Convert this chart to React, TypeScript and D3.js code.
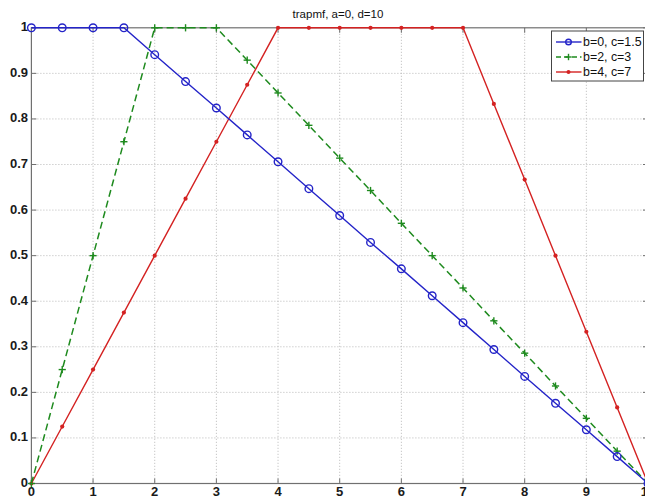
import React from "react";
import * as d3 from "d3";

// Sample points shared by all three membership curves
const xs = [0, 0.5, 1, 1.5, 2, 2.5, 3, 3.5, 4, 4.5, 5, 5.5, 6, 6.5, 7, 7.5, 8, 8.5, 9, 9.5, 10];

// trapmf values read at each sample, a=0, d=10
const seriesB0C15 = [1, 1, 1, 1, 0.941, 0.882, 0.824, 0.765, 0.706, 0.647, 0.588, 0.529, 0.471, 0.412, 0.353, 0.294, 0.235, 0.176, 0.118, 0.059, 0];
const seriesB2C3 = [0, 0.25, 0.5, 0.75, 1, 1, 1, 0.929, 0.857, 0.786, 0.714, 0.643, 0.571, 0.5, 0.429, 0.357, 0.286, 0.214, 0.143, 0.071, 0];
const seriesB4C7 = [0, 0.125, 0.25, 0.375, 0.5, 0.625, 0.75, 0.875, 1, 1, 1, 1, 1, 1, 1, 0.833, 0.667, 0.5, 0.333, 0.167, 0];

const legendLabels = ["b=0, c=1.5", "b=2, c=3", "b=4, c=7"];
const xTicks = [0, 1, 2, 3, 4, 5, 6, 7, 8, 9, 10];
const yTicks = [0, 0.1, 0.2, 0.3, 0.4, 0.5, 0.6, 0.7, 0.8, 0.9, 1];
const title = "trapmf, a=0, d=10";

const W = 645;
const H = 498;
const BLUE = "#2424c8";
const GREEN = "#1e8a1e";
const RED = "#d42222";
const FONT = "'Liberation Sans', Arial, sans-serif";

export default function App() {
  const x = d3.scaleLinear().domain([0, 10]).range([31.4, 648]);
  const y = d3.scaleLinear().domain([0, 1]).range([483.5, 27.8]);

  const line = d3
    .line<[number, number]>()
    .x((d) => x(d[0]))
    .y((d) => y(d[1]));

  const pts = (vals: number[]) => xs.map((v, i) => [v, vals[i]] as [number, number]);

  const left = x(0);
  const right = x(10);
  const top = y(1);
  const bottom = y(0);

  const circleMarker = (cx: number, cy: number, k: string, r = 3.8) => (
    <circle key={k} cx={cx} cy={cy} r={r} fill="none" stroke={BLUE} strokeWidth={1.4} />
  );
  const plusMarker = (cx: number, cy: number, k: string, r = 3.6) => (
    <g key={k} stroke={GREEN} strokeWidth={1.4}>
      <line x1={cx - r} x2={cx + r} y1={cy} y2={cy} />
      <line x1={cx} x2={cx} y1={cy - r} y2={cy + r} />
    </g>
  );
  const dotMarker = (cx: number, cy: number, k: string, r = 2.1) => (
    <circle key={k} cx={cx} cy={cy} r={r} fill={RED} />
  );

  const legendX = 551.5;
  const legendY = 31;
  const legendRows = [
    { label: legendLabels[0], color: BLUE, dash: undefined as string | undefined, marker: circleMarker, mr: 2.8 },
    { label: legendLabels[1], color: GREEN, dash: "5,3", marker: plusMarker, mr: 3.2 },
    { label: legendLabels[2], color: RED, dash: undefined, marker: dotMarker, mr: 2 },
  ];

  return (
    <svg
      width={W}
      height={H}
      style={{ position: "absolute", left: 0, top: 0, background: "#fff" }}
      fontFamily={FONT}
    >
      <rect x={0} y={0} width={W} height={H} fill="#fff" />

      {/* grid */}
      <g stroke="#b8b8b8" strokeWidth={1} strokeDasharray="1,2">
        {xTicks.slice(1, -1).map((t) => (
          <line key={`gx${t}`} x1={x(t)} x2={x(t)} y1={top} y2={bottom} />
        ))}
        {yTicks.slice(1, -1).map((t) => (
          <line key={`gy${t}`} x1={left} x2={right} y1={y(t)} y2={y(t)} />
        ))}
      </g>

      {/* axes box */}
      <rect x={left} y={top} width={right - left} height={bottom - top} fill="none" stroke="#707070" strokeWidth={1.2} />

      {/* ticks */}
      <g stroke="#707070" strokeWidth={1}>
        {xTicks.map((t) => (
          <g key={`tx${t}`}>
            <line x1={x(t)} x2={x(t)} y1={bottom} y2={bottom - 5} />
            <line x1={x(t)} x2={x(t)} y1={top} y2={top + 5} />
          </g>
        ))}
        {yTicks.map((t) => (
          <g key={`ty${t}`}>
            <line x1={left} x2={left + 5} y1={y(t)} y2={y(t)} />
            <line x1={right} x2={right - 5} y1={y(t)} y2={y(t)} />
          </g>
        ))}
      </g>

      {/* tick labels */}
      <g fontSize={13} fill="#1a1a1a" fontWeight={600}>
        {xTicks.map((t) => (
          <text key={`lx${t}`} x={x(t)} y={493} textAnchor="middle" dominantBaseline="middle">
            {d3.format("d")(t)}
          </text>
        ))}
        {yTicks.map((t) => (
          <text key={`ly${t}`} x={28} y={y(t)} textAnchor="end" dominantBaseline="middle">
            {t === 0 || t === 1 ? String(t) : d3.format(".1f")(t)}
          </text>
        ))}
      </g>

      <text x={338} y={15} textAnchor="middle" dominantBaseline="middle" fontSize={11.5} fill="#111">
        {title}
      </text>

      {/* series */}
      <path d={line(pts(seriesB4C7)) ?? ""} fill="none" stroke={RED} strokeWidth={1.4} />
      <path d={line(pts(seriesB2C3)) ?? ""} fill="none" stroke={GREEN} strokeWidth={1.5} strokeDasharray="7,4" />
      <path d={line(pts(seriesB0C15)) ?? ""} fill="none" stroke={BLUE} strokeWidth={1.4} />

      {pts(seriesB4C7).map((p, i) => dotMarker(x(p[0]), y(p[1]), `r${i}`))}
      {pts(seriesB2C3).map((p, i) => plusMarker(x(p[0]), y(p[1]), `g${i}`))}
      {pts(seriesB0C15).map((p, i) => circleMarker(x(p[0]), y(p[1]), `b${i}`))}

      {/* legend */}
      <rect x={legendX} y={legendY} width={92} height={50} fill="#fff" stroke="#444" strokeWidth={1} />
      {legendRows.map((r, i) => {
        const ly = legendY + 11 + i * 15;
        return (
          <g key={`leg${i}`}>
            <line x1={556} x2={581.5} y1={ly} y2={ly} stroke={r.color} strokeWidth={1.4} strokeDasharray={r.dash} />
            {r.marker(568.5, ly, `lm${i}`, r.mr)}
            <text x={583} y={ly + 0.5} dominantBaseline="middle" fontSize={12.4} fill="#111">
              {r.label}
            </text>
          </g>
        );
      })}
    </svg>
  );
}
